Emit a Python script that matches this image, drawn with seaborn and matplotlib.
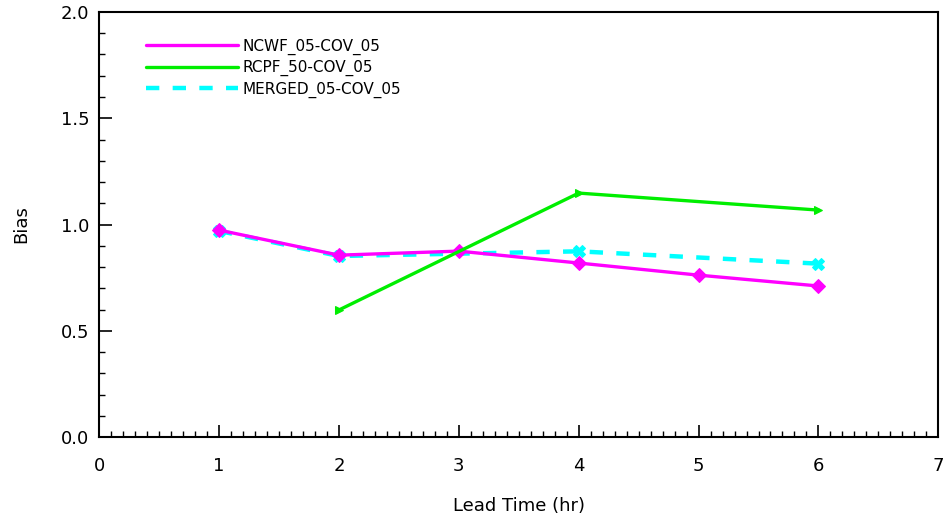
import numpy as np
import pandas as pd

import matplotlib
matplotlib.use('Agg')

import matplotlib.pyplot as plt
from matplotlib.ticker import MultipleLocator, FormatStrFormatter
import seaborn as sns


# =========================================================
# DATA
# =========================================================

ncwf_x = [1, 2, 3, 4, 5, 6]
ncwf_y = [0.974, 0.856, 0.875, 0.819, 0.762, 0.711]

rcpf_x = [2, 4, 6]
rcpf_y = [0.598, 1.148, 1.068]

merged_x = [1, 2, 4, 6]
merged_y = [0.970, 0.852, 0.874, 0.816]

series_names = [
    "NCWF_05-COV_05",
    "RCPF_50-COV_05",
    "MERGED_05-COV_05"
]


# =========================================================
# FIGURE
# =========================================================

sns.set_style('white')
plt.rcParams['font.family'] = ['DejaVu Sans']
plt.rcParams['text.color'] = 'black'
plt.rcParams['axes.labelcolor'] = 'black'
plt.rcParams['xtick.color'] = 'black'
plt.rcParams['ytick.color'] = 'black'

fig = plt.figure(figsize=(9.44, 5.21), dpi=100)
ax = fig.add_axes([0.105, 0.161, 0.889, 0.816])

sns.lineplot(
    x=ncwf_x, y=ncwf_y,
    color='#ff00ff', linewidth=2.4,
    marker='D', markersize=7,
    markeredgecolor='#ff00ff',
    label=series_names[0], ax=ax
)

sns.lineplot(
    x=rcpf_x, y=rcpf_y,
    color='#00ee00', linewidth=2.4,
    marker='>', markersize=6,
    markeredgecolor='#00ee00',
    label=series_names[1], ax=ax
)

sns.lineplot(
    x=merged_x, y=merged_y,
    color='#00ffff', linewidth=3.2,
    linestyle=(0, (3, 3)),
    marker='X', markersize=9,
    markeredgecolor='#00ffff',
    label=series_names[2], ax=ax
)

# draw magenta on top like the original
ax.lines[0].set_zorder(3)
ax.lines[1].set_zorder(4)
ax.lines[2].set_zorder(2)

ax.set_xlim(0, 7)
ax.set_ylim(0, 2.0)

ax.xaxis.set_major_locator(MultipleLocator(1))
ax.xaxis.set_minor_locator(MultipleLocator(0.1))
ax.yaxis.set_major_locator(MultipleLocator(0.5))
ax.yaxis.set_minor_locator(MultipleLocator(0.1))
ax.yaxis.set_major_formatter(FormatStrFormatter('%.1f'))

ax.tick_params(which='major', direction='in', length=9, width=1.2,
               labelsize=13, pad=7, bottom=True, left=True,
               top=False, right=False)
ax.tick_params(which='minor', direction='in', length=4, width=1.0,
               bottom=True, left=True, top=False, right=False)
ax.tick_params(axis='x', which='major', pad=14)

for sp in ax.spines.values():
    sp.set_color('black')
    sp.set_linewidth(1.5)

ax.set_xlabel("Lead Time (hr)", fontsize=13, labelpad=16)
ax.set_ylabel("Bias", fontsize=13, labelpad=22)

leg = ax.legend(
    loc='upper left',
    bbox_to_anchor=(0.04, 0.97),
    frameon=False,
    fontsize=11,
    handlelength=6.0,
    handletextpad=0.3,
    labelspacing=0.35,
    markerscale=0
)
for h in leg.legend_handles:
    h.set_marker('')

plt.savefig("out.png", dpi=100)
plt.close()
